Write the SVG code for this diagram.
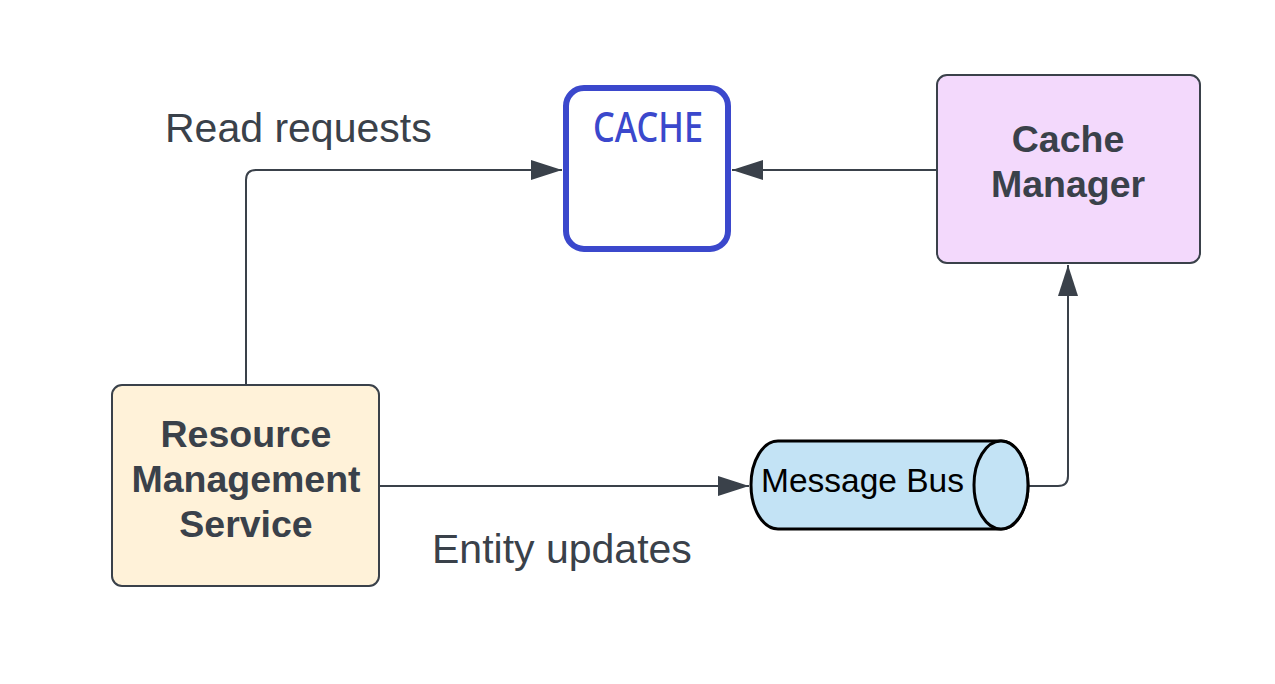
<svg xmlns="http://www.w3.org/2000/svg" width="1275" height="684" viewBox="0 0 1275 684">
<style>
.lbl{font-family:"Liberation Sans",Arial,sans-serif;fill:#3a414a;font-size:41px}
.bold{font-family:"Liberation Sans",Arial,sans-serif;fill:#3a414a;font-size:37.5px;font-weight:bold;text-anchor:middle}
.box{stroke:#3a414a;stroke-width:2}
.conn{fill:none;stroke:#3a414a;stroke-width:2}
</style>
<defs>
<marker id="arr" markerUnits="userSpaceOnUse" markerWidth="32" markerHeight="22" refX="31" refY="11" orient="auto">
<path d="M0,1 L31,11 L0,21 Z" fill="#3a414a"/>
</marker>
</defs>
<rect width="1275" height="684" fill="#ffffff"/>
<g id="connectors">
<path class="conn" d="M246,385 V180 Q246,170 256,170 H562" marker-end="url(#arr)"/>
<path class="conn" d="M937,170 H732" marker-end="url(#arr)"/>
<path class="conn" d="M379,486 H749" marker-end="url(#arr)"/>
<path class="conn" d="M1029,486 H1058 Q1068,486 1068,476 V265" marker-end="url(#arr)"/>
</g>
<g id="cache">
<rect x="566" y="88" width="162" height="161" rx="18" fill="#ffffff" stroke="#3b48cc" stroke-width="6"/>
<text x="648" y="142" font-family="'Noto Sans',sans-serif" font-size="41" font-weight="500" fill="#3b48cc" text-anchor="middle" textLength="110" lengthAdjust="spacingAndGlyphs">CACHE</text>
</g>
<g id="cache-manager">
<rect class="box" x="937" y="75" width="263" height="188" rx="10" fill="#f3d9fc"/>
<text class="bold" x="1068" y="152">Cache</text>
<text class="bold" x="1068" y="197">Manager</text>
</g>
<g id="resource-management-service">
<rect class="box" x="112" y="385" width="267" height="201" rx="10" fill="#fff2d9"/>
<text class="bold" x="246" y="447">Resource</text>
<text class="bold" x="246" y="492">Management</text>
<text class="bold" x="246" y="537">Service</text>
</g>
<g id="message-bus">
<path d="M778,441 H1001 A27,44 0 0 1 1001,529 H778 A27,44 0 0 1 778,441 Z" fill="#c3e3f5" stroke="#000000" stroke-width="3"/>
<ellipse cx="1001" cy="485" rx="27" ry="44" fill="#c3e3f5" stroke="#000000" stroke-width="3"/>
<text x="862.5" y="492" font-family="'Liberation Sans',Arial,sans-serif" font-size="33.5" fill="#000000" text-anchor="middle">Message Bus</text>
</g>
<g id="labels">
<text class="lbl" x="165" y="142">Read requests</text>
<text class="lbl" x="432" y="563">Entity updates</text>
</g>
</svg>
